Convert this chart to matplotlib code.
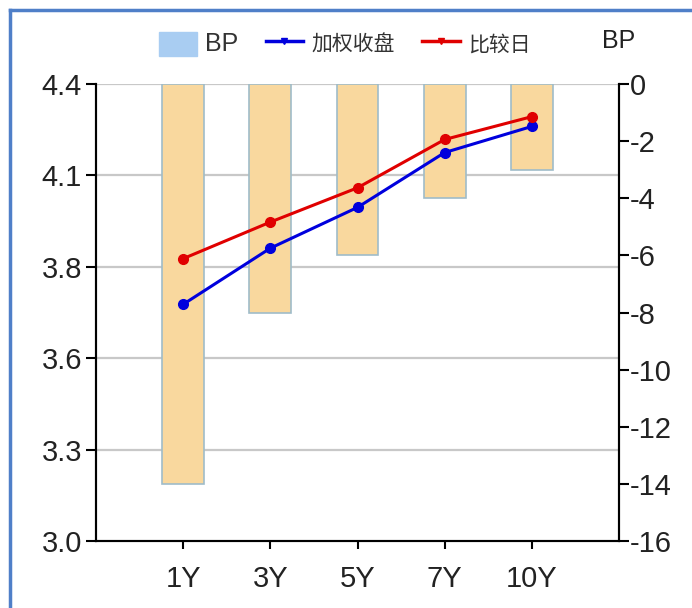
import numpy as np
import matplotlib.pyplot as plt
import matplotlib.transforms as mtransforms
from matplotlib.lines import Line2D
from matplotlib.patches import Patch

plt.rcParams['font.family'] = ['Liberation Sans', 'Noto Sans CJK SC', 'DejaVu Sans']
plt.rcParams['axes.unicode_minus'] = False

# 收益率曲线数据
tenors = ['1Y', '3Y', '5Y', '7Y', '10Y']
yield_close = [3.725, 3.897, 4.022, 4.190, 4.270]    # 加权收盘
yield_compare = [3.865, 3.977, 4.082, 4.230, 4.300]  # 比较日
bp_change = [-14, -8, -6, -4, -3]                    # BP

yield_ticks = np.linspace(3.0, 4.4, 6)
bp_ticks = np.arange(-16, 1, 2)

fig = plt.figure(figsize=(6.92, 6.08), dpi=100)
ax_bp = fig.add_axes([96 / 692, 1 - 541 / 608, 523 / 692, 457 / 608])
ax_y = ax_bp.twinx()

x = np.arange(1, len(tenors) + 1)

# 网格线按左轴刻度画在柱子下面
trans = mtransforms.blended_transform_factory(ax_bp.transAxes, ax_y.transData)
for v in yield_ticks[1:]:
    ax_bp.add_line(Line2D([0, 1], [v, v], transform=trans, color='#C8C8C8', lw=1.6, zorder=0))

ax_bp.bar(x, bp_change, width=0.48, color='#F9D89E', edgecolor='#9FBCC9', linewidth=1.2, zorder=2)
ax_bp.set_xlim(0, 6)
ax_bp.set_ylim(-16, 0)
ax_bp.set_yticks(bp_ticks)
ax_bp.set_xticks(x, tenors)
ax_bp.yaxis.set_ticks_position('right')

ax_y.plot(x, yield_close, color='#0000DD', lw=2.2, marker='o', ms=7, zorder=3)
ax_y.plot(x, yield_compare, color='#E00000', lw=2.2, marker='o', ms=7, zorder=3)
ax_y.set_ylim(3.0, 4.4)
ax_y.set_yticks(yield_ticks, [f'{v:.1f}' for v in yield_ticks])
ax_y.yaxis.set_ticks_position('left')

for ax in (ax_bp, ax_y):
    ax.spines['top'].set_visible(False)
    for s in ('left', 'right', 'bottom'):
        ax.spines[s].set_color('black')
        ax.spines[s].set_linewidth(1.5)

ax_y.tick_params(axis='y', direction='out', length=7, width=1.5, labelsize=21, pad=3, labelcolor='#222222')
ax_bp.tick_params(axis='y', direction='out', length=7, width=1.5, labelsize=21, pad=1, labelcolor='#222222')
ax_bp.tick_params(axis='x', direction='out', length=6, width=1.5, labelsize=21, pad=11, labelcolor='#222222')

handles = [
    Patch(facecolor='#A9CDF2', edgecolor='#A9CDF2'),
    Line2D([], [], color='#0000DD', lw=2.5, marker='v', ms=4),
    Line2D([], [], color='#E00000', lw=2.5, marker='v', ms=4),
]
leg = fig.legend(handles, ['BP', '加权收盘', '比较日'], loc='center', ncol=3,
                 bbox_to_anchor=(345 / 692, 1 - 44 / 608), frameon=False,
                 prop={'family': ['Liberation Sans', 'Noto Sans CJK SC'], 'size': 15},
                 handlelength=1.8, handleheight=1.4, handletextpad=0.4, columnspacing=1.3,
                 labelcolor='#333333')
leg.get_texts()[0].set_fontsize(18)

fig.text(619 / 692, 1 - 41 / 608, 'BP', ha='center', va='center', fontsize=18, color='#222222')

# 外框
fig.add_artist(Line2D([10 / 692, 10 / 692], [0, 1 - 10 / 608], transform=fig.transFigure,
                      color='#4F7FC8', lw=2.5))
fig.add_artist(Line2D([10 / 692, 1], [1 - 10 / 608, 1 - 10 / 608], transform=fig.transFigure,
                      color='#4F7FC8', lw=2.5))

fig.savefig('out.png', dpi=100)
